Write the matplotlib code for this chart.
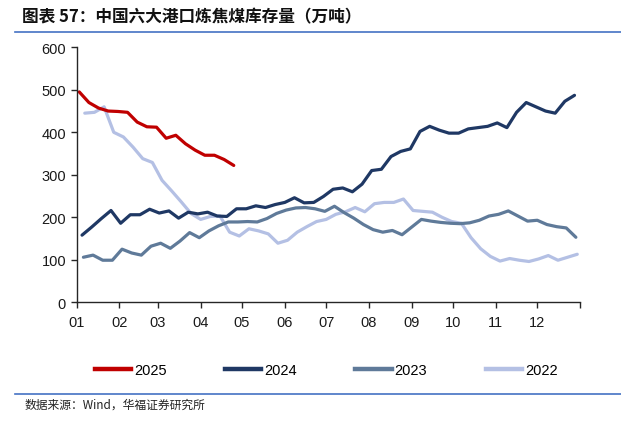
import pandas as pd
import matplotlib.pyplot as plt
from matplotlib.lines import Line2D

plt.rcParams['font.family'] = ['Liberation Sans', 'Noto Sans CJK SC', 'DejaVu Sans']

# weekly stock of coking coal at the six big ports (10k tonnes)
v2025 = [495, 470, 457, 450, 449, 447, 424, 413, 412, 386, 393, 373, 358, 346, 346, 336, 322]
v2024 = [158, 177, 197, 216, 186, 206, 206, 219, 210, 215, 198, 212, 208, 212, 203, 202,
         220, 220, 227, 223, 230, 235, 246, 234, 235, 249, 266, 269, 260, 278, 310, 313,
         343, 355, 361, 402, 414, 405, 398, 398, 408, 411, 414, 422, 411, 447, 470, 460,
         450, 445, 473, 487]
v2023 = [106, 111, 99, 99, 125, 116, 111, 132, 139, 127, 144, 164, 152, 168, 180, 189,
         189, 190, 189, 197, 209, 217, 222, 223, 220, 214, 226, 211, 198, 183, 171, 165,
         169, 159, 177, 195, 191, 188, 186, 185, 187, 193, 203, 207, 215, 203, 191, 193,
         183, 178, 175, 153]
v2022 = [445, 447, 460, 400, 389, 365, 338, 329, 287, 262, 236, 209, 195, 202, 203, 165,
         156, 173, 168, 161, 139, 146, 165, 178, 190, 195, 207, 213, 223, 213, 232, 235,
         235, 243, 216, 214, 212, 200, 190, 186, 152, 126, 108, 97, 103, 99, 96, 102,
         110, 99, 106, 113]

# first weekly observation of each year
starts = {'2025': '2025-01-03', '2024': '2024-01-05', '2023': '2023-01-06', '2022': '2022-01-07'}
series = {'2025': v2025, '2024': v2024, '2023': v2023, '2022': v2022}
colors = {'2025': '#C00000', '2024': '#1F3864', '2023': '#5F7A99', '2022': '#B4C0E4'}
month_labels = ['01', '02', '03', '04', '05', '06', '07', '08', '09', '10', '11', '12']

fig = plt.figure(figsize=(6.21, 4.27), dpi=100)
ax = fig.add_axes([0.1232, 0.2897, 0.8108, 0.5972])

for year in ['2022', '2023', '2024', '2025']:
    vals = series[year]
    dates = pd.date_range(starts[year], periods=len(vals), freq='7D')
    ax.plot(dates.dayofyear - 1, vals, color=colors[year], lw=2.3, solid_capstyle='round')

month_starts = list(pd.date_range('2025-01-01', periods=12, freq='MS').dayofyear - 1)
ax.set_xticks(month_starts + [365])
ax.set_xticklabels(month_labels + [''])
ax.set_xlim(0, 365)
ax.set_ylim(0, 600)
ax.set_yticks(range(0, 601, 100))

for s in ['top', 'right']:
    ax.spines[s].set_visible(False)
for s in ['left', 'bottom']:
    ax.spines[s].set_color('#262626')
    ax.spines[s].set_linewidth(1.0)
ax.tick_params(axis='both', direction='out', length=4, width=1.0, color='#262626',
               labelsize=10.5, labelcolor='#1a1a1a')
ax.tick_params(axis='x', pad=5)

handles = [Line2D([], [], color=colors[y], lw=3.2) for y in ['2025', '2024', '2023', '2022']]
fig.legend(handles, ['2025', '2024', '2023', '2022'], loc='center',
           bbox_to_anchor=(326 / 621, 1 - 371 / 427), ncol=4, frameon=False,
           fontsize=10.5, handlelength=2.5, handletextpad=0.2, columnspacing=4.0)

fig.text(22 / 621, 1 - 17 / 427, '图表 57：中国六大港口炼焦煤库存量（万吨）',
         family=['Noto Sans CJK SC', 'DejaVu Sans'], fontsize=12, fontweight='bold',
         va='center', ha='left', color='#111111')
fig.add_artist(Line2D([15 / 621, 1], [1 - 33 / 427] * 2, color='#4472C4', lw=1.2))
fig.add_artist(Line2D([15 / 621, 1], [1 - 395 / 427] * 2, color='#4472C4', lw=1.2))
fig.text(25 / 621, 1 - 405 / 427, '数据来源：Wind，华福证券研究所',
         family=['Noto Sans CJK SC', 'DejaVu Sans'], fontsize=8.5,
         va='center', ha='left', color='#222222')

fig.savefig('out.png', dpi=100)
